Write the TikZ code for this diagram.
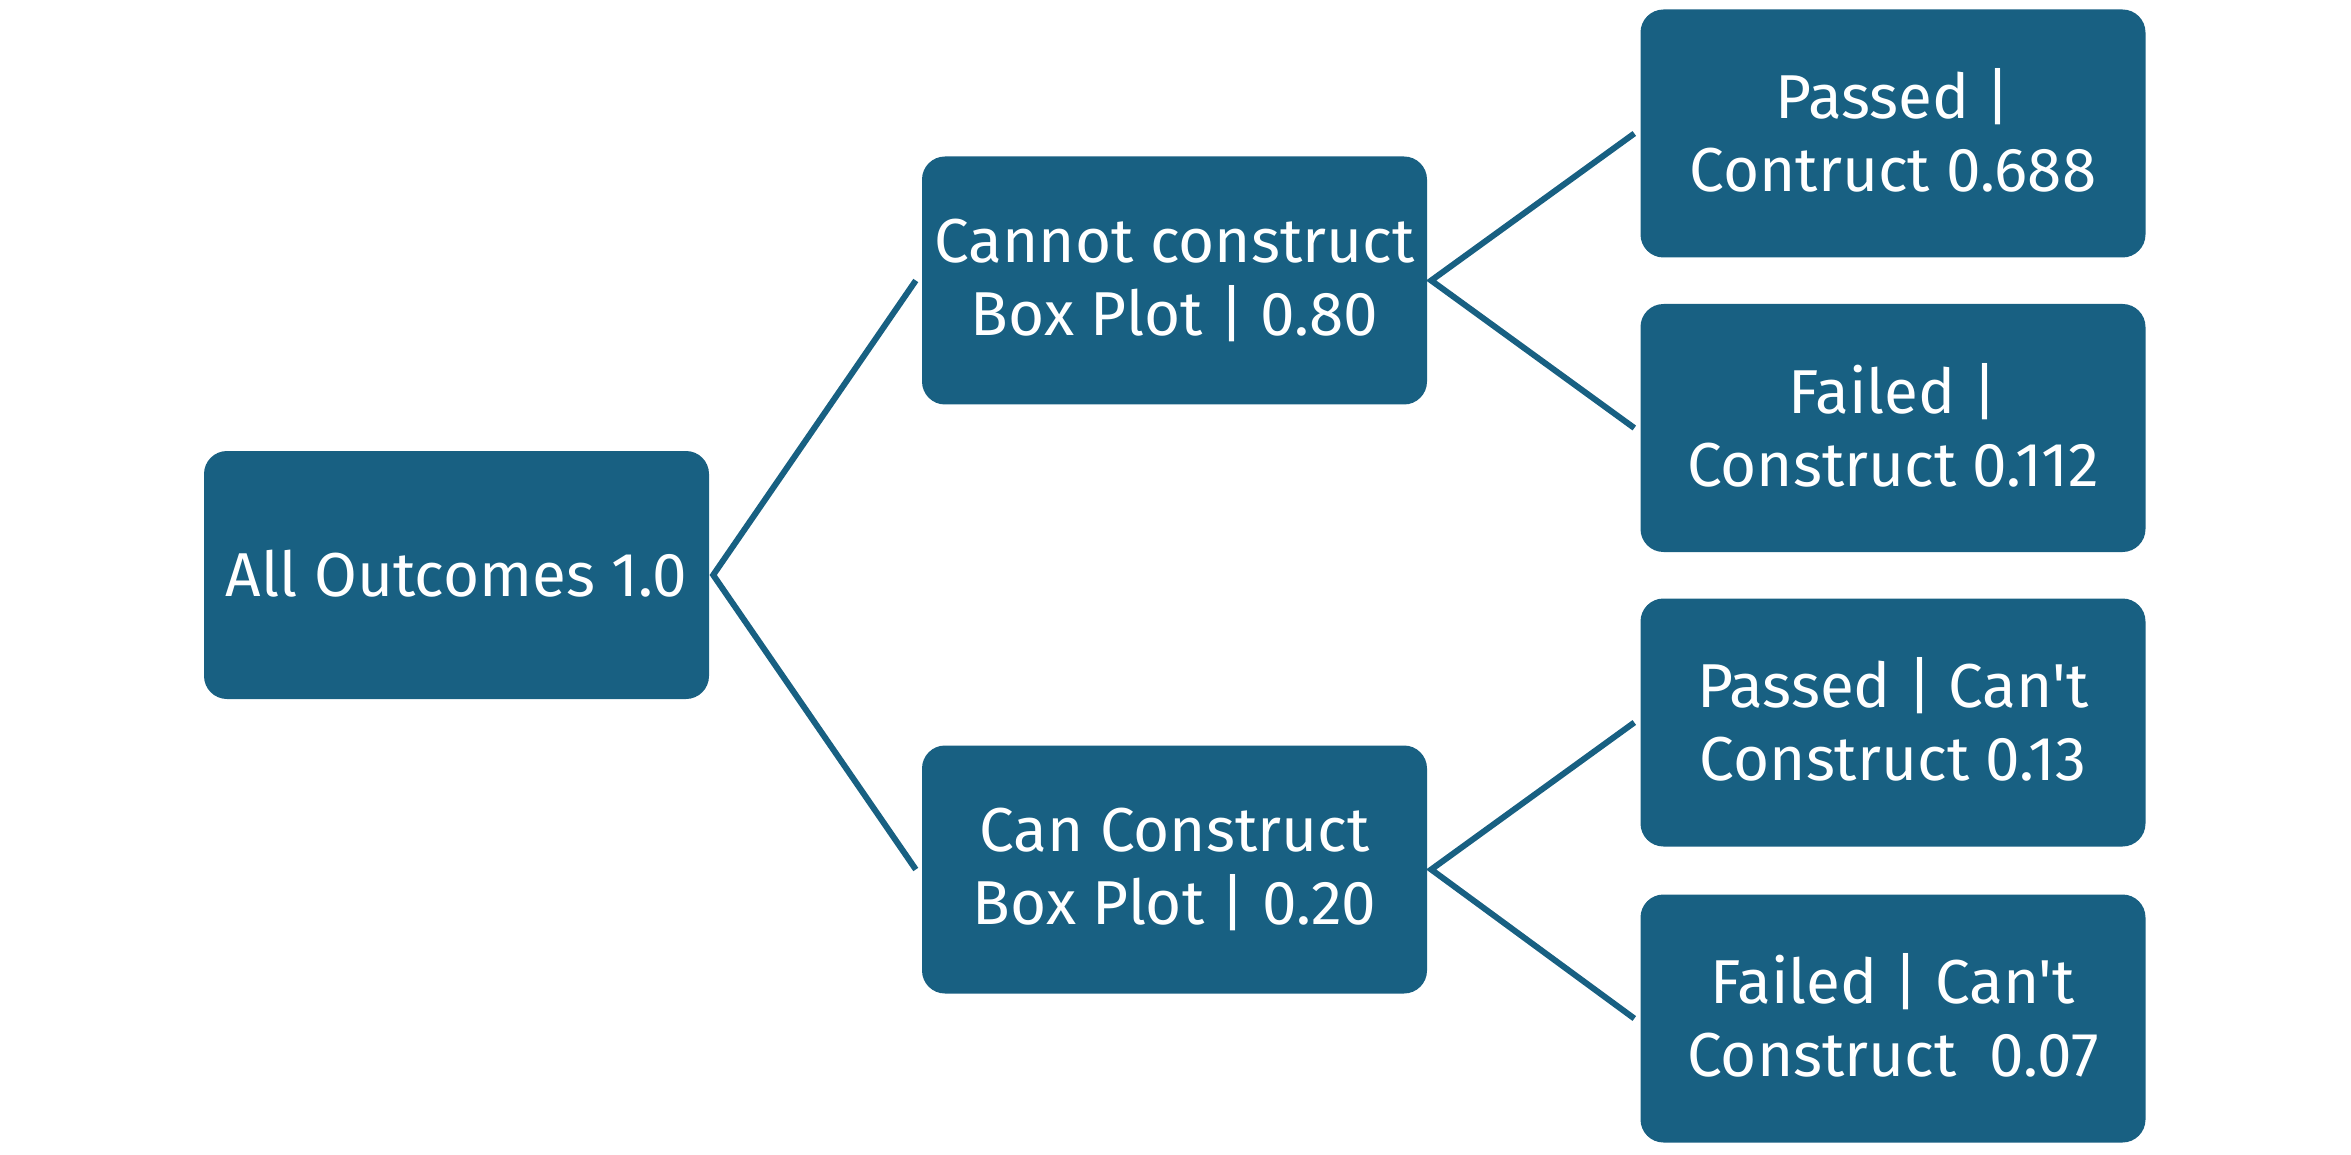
\documentclass[tikz,border=0pt]{standalone}
\usepackage{fontspec}
\setmainfont{Fira Sans}[Ligatures=TeXOff]
\usetikzlibrary{calc}
\definecolor{boxblue}{RGB}{24,96,130}
\tikzset{
  box/.style={draw=none, fill=boxblue, rounded corners=23pt, minimum width=505pt, minimum height=248pt,
    inner sep=0pt, text=white, align=center, font=\fontsize{62}{73}\selectfont,
    execute at end node=\vphantom{|}},
  link/.style={draw=boxblue, line width=6pt}
}
\begin{document}
\begin{tikzpicture}[x=1pt,y=-1pt]
\useasboundingbox (0,0) rectangle (2351,1155);
\node[box] (root) at (456.5,575) {All Outcomes 1.0};
\node[box] (m1) at (1174.5,280.5) {Cannot construct\\Box Plot | 0.80};
\node[box] (m2) at (1174.5,869.5) {Can Construct\\Box Plot | 0.20};
\node[box] (l1) at (1893,133.5) {Passed |\\Contruct 0.688};
\node[box] (l2) at (1893,428) {Failed |\\Construct 0.112};
\node[box] (l3) at (1893,722.5) {Passed | Can't\\Construct 0.13};
\node[box] (l4) at (1893,1018.5) {Failed | Can't\\Construct\ \ 0.07};
\draw[link] ($(m1.west)+(-6,0)$) -- ($(root.east)+(4,0)$) -- ($(m2.west)+(-6,0)$);
\draw[link] ($(l1.west)+(-6,0)$) -- ($(m1.east)+(4,0)$) -- ($(l2.west)+(-6,0)$);
\draw[link] ($(l3.west)+(-6,0)$) -- ($(m2.east)+(4,0)$) -- ($(l4.west)+(-6,0)$);
\end{tikzpicture}
\end{document}
